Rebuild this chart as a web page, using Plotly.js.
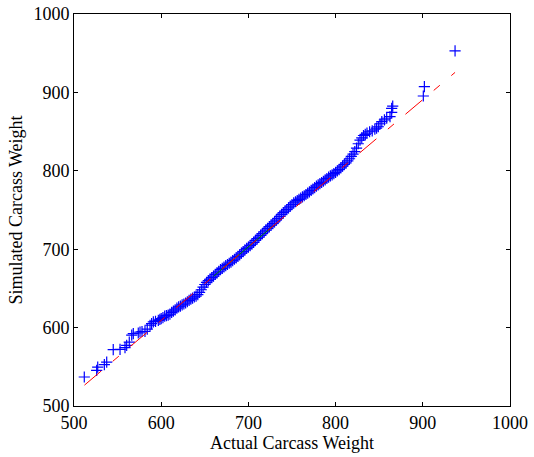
<!DOCTYPE html>
<html>
<head>
<meta charset="utf-8">
<script src="https://cdn.plot.ly/plotly-3.0.1.min.js"></script>
<style>html,body{margin:0;padding:0;background:#fff;}#chart{width:534px;height:457px;}</style>
</head>
<body>
<div id="chart"></div>
<script>
// Lower tail (sparse points)
const tailLowX = [511.8, 526, 527.2, 534.8, 537.5, 545, 552.8, 558.5, 560.4, 563.4, 566.2, 568, 573.7, 575.7, 578, 581.4, 584, 587.2, 589, 591, 593.5, 596.7, 598.5];
const tailLowY = [537, 545.5, 549.7, 552.7, 556, 572, 572.3, 574.5, 577.4, 581.6, 590.5, 592.3, 593.1, 594.4, 595, 595.3, 598, 603, 605, 607.2, 608, 609.3, 610.5];

// Dense central band
const midX = [600,602,604,606,608,610,612,614,616,618,620,622,624,626,628,630,632,634,636,638,640,642,644,646,648,650,652,654,656,658,660,662,664,666,668,670,672,674,676,678,680,682,684,686,688,690,692,694,696,698,700,702,704,706,708,710,712,714,716,718,720,722,724,726,728,730,732,734,736,738,740,742,744,746,748,750,752,754,756,758,760,762,764,766,768,770,772,774,776,778,780,782,784,786,788,790,792,794,796,798,800,802,804,806,808,810,812,814,816,818,820];
const midY = [611.5,612.8,614.6,615.2,616.0,617.3,619.4,621.0,622.6,624.8,626.5,627.4,628.9,630.1,631.4,633.0,634.6,636.2,637.5,639.0,640.2,642.1,645.0,648.3,651.7,655.0,657.6,659.8,661.9,663.8,665.7,667.9,669.8,671.9,674.0,675.6,677.3,679.0,680.5,682.1,683.6,685.4,687.2,689.0,690.9,692.8,694.9,697.0,699.1,701.0,702.7,704.6,706.5,708.8,711.3,713.6,715.5,717.7,719.8,722.0,724.4,726.6,728.9,730.7,732.5,734.8,737.1,739.4,741.8,744.3,746.7,748.6,750.4,752.6,754.9,757.0,759.0,760.5,762.1,763.6,765.1,766.8,768.2,769.8,771.4,773.1,775.0,776.8,778.6,780.4,782.0,783.6,785.1,786.7,788.4,790.2,791.9,793.5,794.8,796.4,798.1,799.8,801.6,803.8,806.0,808.1,810.0,812.6,815.4,818.3,821.2];

// Upper tail (sparse points)
const tailHighX = [822, 824, 826, 828, 830, 832, 834, 836, 839, 842, 845, 847, 849, 851, 853, 856, 858.6, 862.4, 864.3, 864.3, 865.5, 900.6, 901.8, 937];
const tailHighY = [824.5, 829, 834.5, 839, 842, 845, 846.5, 848, 849.8, 851, 853, 854.5, 856.2, 860, 862.6, 865, 867, 869, 874.6, 879.7, 882.6, 895.4, 907.3, 953];

// Reference line (through quartiles, extended over data range)
const refLineX = [512, 937];
const refLineY = [526.6, 925.5];
const quartLineX = [660, 730];
const quartLineY = [665.5, 731.2];

const xTicks = [500, 600, 700, 800, 900, 1000];
const yTicks = [500, 600, 700, 800, 900, 1000];

const allX = tailLowX.concat(midX, tailHighX);
const allY = tailLowY.concat(midY, tailHighY);

const font = {family: 'Liberation Serif, Times New Roman, serif', size: 18, color: '#000'};

const traces = [
  {
    x: allX, y: allY, type: 'scatter', mode: 'markers',
    marker: {symbol: 'cross-thin', size: 8, color: '#0000ff', line: {color: '#0000ff', width: 1.2}},
    hoverinfo: 'skip', showlegend: false
  },
  {
    x: quartLineX, y: quartLineY, type: 'scatter', mode: 'lines',
    line: {color: '#008000', width: 1},
    hoverinfo: 'skip', showlegend: false
  },
  {
    x: refLineX, y: refLineY, type: 'scatter', mode: 'lines',
    line: {color: '#ff0000', width: 1, dash: '22px,15px,8px,15px'},
    hoverinfo: 'skip', showlegend: false
  }
];

const axisCommon = {
  showgrid: false, zeroline: false, showline: true, linecolor: '#000', linewidth: 1,
  mirror: 'ticks', ticks: 'inside', ticklen: 4, tickcolor: '#000', tickwidth: 1,
  tickfont: font
};

const layout = {
  width: 534, height: 457,
  margin: {l: 74, r: 24, t: 14, b: 51, pad: 0},
  paper_bgcolor: '#fff', plot_bgcolor: '#fff',
  font: font,
  showlegend: false,
  xaxis: Object.assign({}, axisCommon, {
    range: [500, 1000], tickvals: xTicks, ticktext: xTicks.map(String),
    title: {text: 'Actual Carcass Weight', font: font, standoff: 3}
  }),
  yaxis: Object.assign({}, axisCommon, {
    range: [500, 1000], tickvals: yTicks, ticktext: yTicks.map(String),
    title: {text: 'Simulated Carcass Weight', font: font, standoff: 6}
  })
};

Plotly.newPlot('chart', traces, layout, {staticPlot: true, displayModeBar: false});
</script>
</body>
</html>
